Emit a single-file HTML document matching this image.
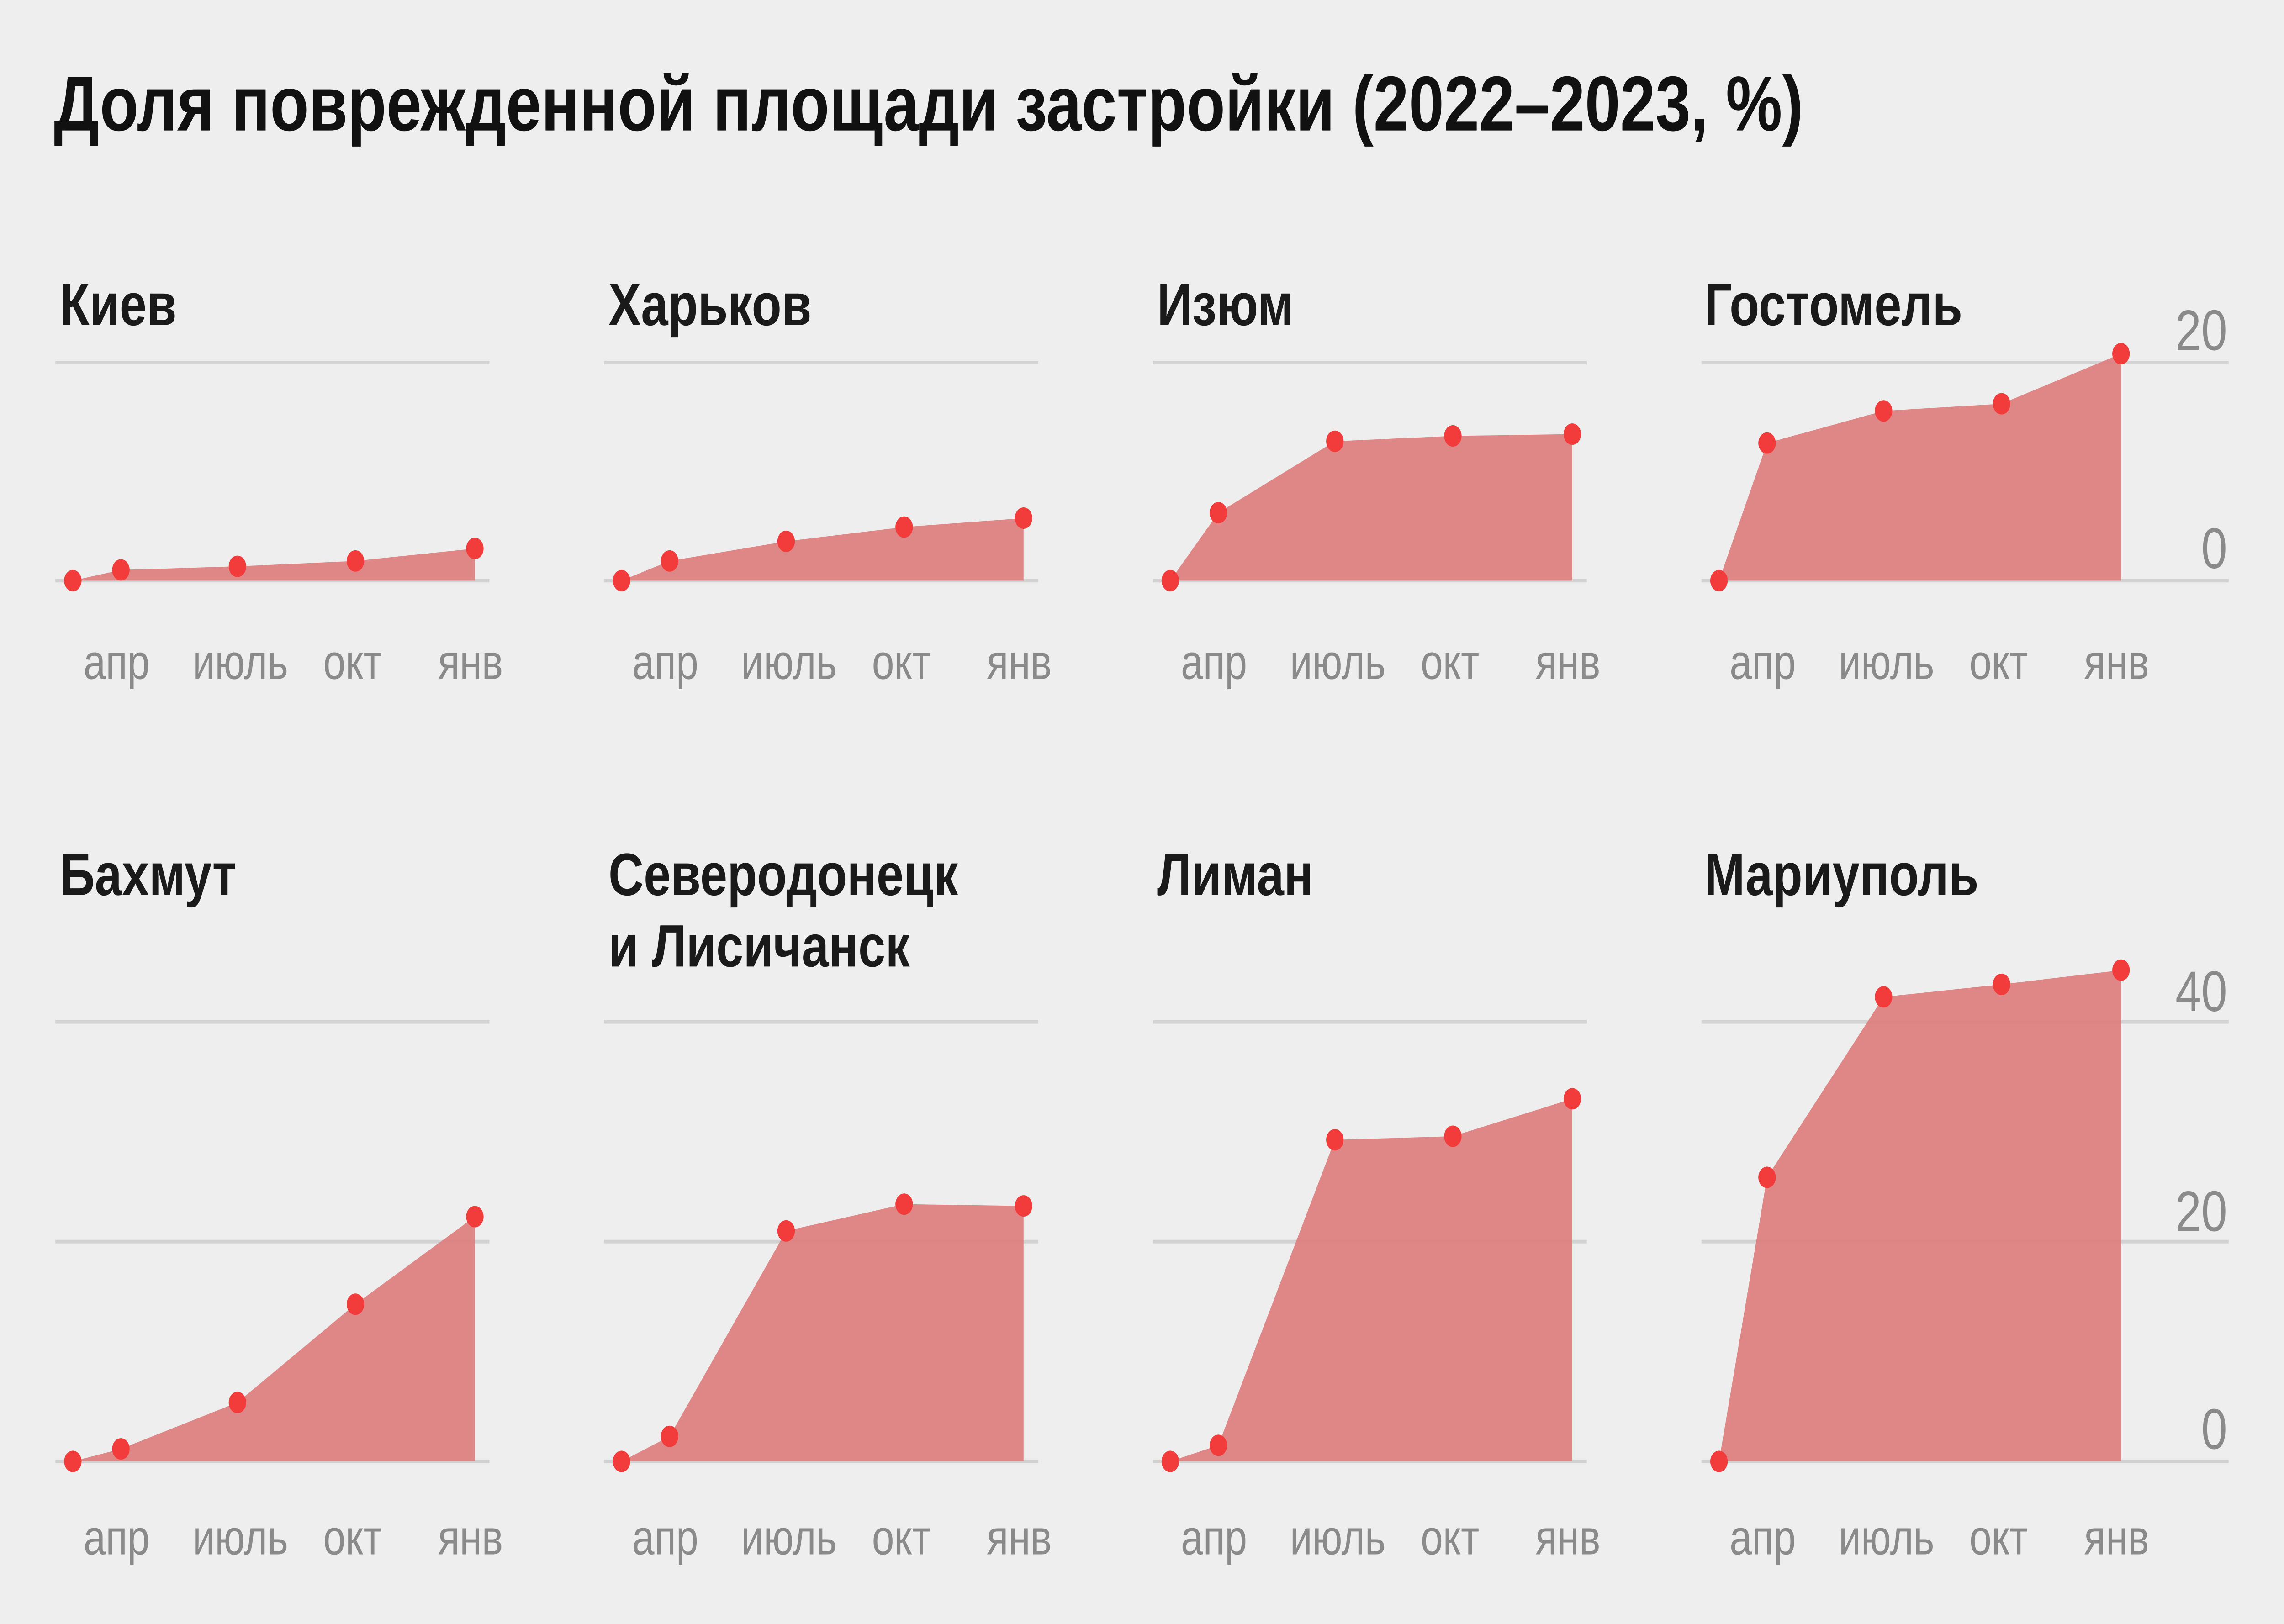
<!DOCTYPE html>
<html><head><meta charset="utf-8"><style>
html,body{margin:0;padding:0;background:#eeeeee;overflow:hidden;width:100vw;height:100vh;}
svg{display:block;width:100vw;height:100vh;}
text{font-family:"Liberation Sans","DejaVu Sans",sans-serif;}
.t{font-size:33.5px;font-weight:bold;fill:#1a1a1a;}
.m{font-size:27.5px;fill:#8a8a8a;text-anchor:middle;}
.a{font-size:32px;fill:#8a8a8a;text-anchor:end;}
.g{stroke:#d2d2d2;stroke-width:2;}
.ar{fill:#dd8080;fill-opacity:0.95;}
.d{fill:#f23b3b;}
</style></head><body>
<svg viewBox="0 0 1568 909" preserveAspectRatio="none" xmlns="http://www.w3.org/2000/svg">
<rect width="1568" height="909" fill="#eeeeee"/>
<text x="37" y="73" style="font-size:43.5px;font-weight:bold;fill:#111;">Доля поврежденной площади застройки (2022–2023, %)</text>

<line class="g" x1="38" x2="336" y1="203" y2="203"/><line class="g" x1="38" x2="336" y1="325" y2="325"/>
<line class="g" x1="414.7" x2="712.7" y1="203" y2="203"/><line class="g" x1="414.7" x2="712.7" y1="325" y2="325"/>
<line class="g" x1="791.4" x2="1089.4" y1="203" y2="203"/><line class="g" x1="791.4" x2="1089.4" y1="325" y2="325"/>
<line class="g" x1="1168.1" x2="1530" y1="203" y2="203"/><line class="g" x1="1168.1" x2="1530" y1="325" y2="325"/>
<line class="g" x1="38" x2="336" y1="572" y2="572"/><line class="g" x1="38" x2="336" y1="695" y2="695"/><line class="g" x1="38" x2="336" y1="818" y2="818"/>
<line class="g" x1="414.7" x2="712.7" y1="572" y2="572"/><line class="g" x1="414.7" x2="712.7" y1="695" y2="695"/><line class="g" x1="414.7" x2="712.7" y1="818" y2="818"/>
<line class="g" x1="791.4" x2="1089.4" y1="572" y2="572"/><line class="g" x1="791.4" x2="1089.4" y1="695" y2="695"/><line class="g" x1="791.4" x2="1089.4" y1="818" y2="818"/>
<line class="g" x1="1168.1" x2="1530" y1="572" y2="572"/><line class="g" x1="1168.1" x2="1530" y1="695" y2="695"/><line class="g" x1="1168.1" x2="1530" y1="818" y2="818"/>

<text class="t" x="41" y="182">Киев</text>
<text class="t" x="417.7" y="182">Харьков</text>
<text class="t" x="794.4" y="182">Изюм</text>
<text class="t" x="1170" y="182">Гостомель</text>
<text class="t" x="41" y="501">Бахмут</text>
<text class="t" x="417.7" y="501">Северодонецк</text>
<text class="t" x="417.7" y="541">и Лисичанск</text>
<text class="t" x="794.4" y="501">Лиман</text>
<text class="t" x="1170" y="501">Мариуполь</text>

<path class="ar" d="M50,325 L83,319 L163,317 L244,314 L326,307 L326,325 Z"/>
<path class="ar" d="M426.7,325 L459.7,314 L539.7,303 L620.7,295 L702.7,290 L702.7,325 Z"/>
<path class="ar" d="M803.4,325 L836.4,287 L916.4,247 L997.4,244 L1079.4,243 L1079.4,325 Z"/>
<path class="ar" d="M1180.1,325 L1213.1,248 L1293.1,230 L1374.1,226 L1456.1,198 L1456.1,325 Z"/>
<path class="ar" d="M50,818 L83,811 L163,785 L244,730 L326,681 L326,818 Z"/>
<path class="ar" d="M426.7,818 L459.7,804 L539.7,689 L620.7,674 L702.7,675 L702.7,818 Z"/>
<path class="ar" d="M803.4,818 L836.4,809 L916.4,638 L997.4,636 L1079.4,615 L1079.4,818 Z"/>
<path class="ar" d="M1180.1,818 L1213.1,659 L1293.1,558 L1374.1,551 L1456.1,543 L1456.1,818 Z"/>

<g class="d">
<circle cx="50" cy="325" r="6"/><circle cx="83" cy="319" r="6"/><circle cx="163" cy="317" r="6"/><circle cx="244" cy="314" r="6"/><circle cx="326" cy="307" r="6"/>
<circle cx="426.7" cy="325" r="6"/><circle cx="459.7" cy="314" r="6"/><circle cx="539.7" cy="303" r="6"/><circle cx="620.7" cy="295" r="6"/><circle cx="702.7" cy="290" r="6"/>
<circle cx="803.4" cy="325" r="6"/><circle cx="836.4" cy="287" r="6"/><circle cx="916.4" cy="247" r="6"/><circle cx="997.4" cy="244" r="6"/><circle cx="1079.4" cy="243" r="6"/>
<circle cx="1180.1" cy="325" r="6"/><circle cx="1213.1" cy="248" r="6"/><circle cx="1293.1" cy="230" r="6"/><circle cx="1374.1" cy="226" r="6"/><circle cx="1456.1" cy="198" r="6"/>
<circle cx="50" cy="818" r="6"/><circle cx="83" cy="811" r="6"/><circle cx="163" cy="785" r="6"/><circle cx="244" cy="730" r="6"/><circle cx="326" cy="681" r="6"/>
<circle cx="426.7" cy="818" r="6"/><circle cx="459.7" cy="804" r="6"/><circle cx="539.7" cy="689" r="6"/><circle cx="620.7" cy="674" r="6"/><circle cx="702.7" cy="675" r="6"/>
<circle cx="803.4" cy="818" r="6"/><circle cx="836.4" cy="809" r="6"/><circle cx="916.4" cy="638" r="6"/><circle cx="997.4" cy="636" r="6"/><circle cx="1079.4" cy="615" r="6"/>
<circle cx="1180.1" cy="818" r="6"/><circle cx="1213.1" cy="659" r="6"/><circle cx="1293.1" cy="558" r="6"/><circle cx="1374.1" cy="551" r="6"/><circle cx="1456.1" cy="543" r="6"/>
</g>

<text class="m" x="80" y="380">апр</text><text class="m" x="165" y="380">июль</text><text class="m" x="242" y="380">окт</text><text class="m" x="323" y="380">янв</text>
<text class="m" x="456.7" y="380">апр</text><text class="m" x="541.7" y="380">июль</text><text class="m" x="618.7" y="380">окт</text><text class="m" x="699.7" y="380">янв</text>
<text class="m" x="833.4" y="380">апр</text><text class="m" x="918.4" y="380">июль</text><text class="m" x="995.4" y="380">окт</text><text class="m" x="1076.4" y="380">янв</text>
<text class="m" x="1210.1" y="380">апр</text><text class="m" x="1295.1" y="380">июль</text><text class="m" x="1372.1" y="380">окт</text><text class="m" x="1453.1" y="380">янв</text>
<text class="m" x="80" y="870">апр</text><text class="m" x="165" y="870">июль</text><text class="m" x="242" y="870">окт</text><text class="m" x="323" y="870">янв</text>
<text class="m" x="456.7" y="870">апр</text><text class="m" x="541.7" y="870">июль</text><text class="m" x="618.7" y="870">окт</text><text class="m" x="699.7" y="870">янв</text>
<text class="m" x="833.4" y="870">апр</text><text class="m" x="918.4" y="870">июль</text><text class="m" x="995.4" y="870">окт</text><text class="m" x="1076.4" y="870">янв</text>
<text class="m" x="1210.1" y="870">апр</text><text class="m" x="1295.1" y="870">июль</text><text class="m" x="1372.1" y="870">окт</text><text class="m" x="1453.1" y="870">янв</text>

<text class="a" x="1529" y="196">20</text>
<text class="a" x="1529" y="318">0</text>
<text class="a" x="1529" y="566">40</text>
<text class="a" x="1529" y="689">20</text>
<text class="a" x="1529" y="811">0</text>
</svg>
</body></html>
